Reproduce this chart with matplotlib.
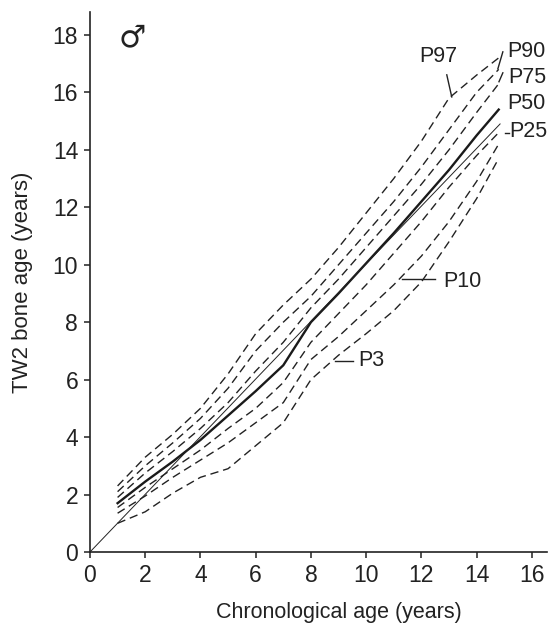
import matplotlib
matplotlib.use("Agg")
import matplotlib.pyplot as plt

# chronological age at which the centile curves are read
ages = [1, 2, 3, 4, 5, 6, 7, 8, 9, 10, 11, 12, 13, 14, 14.8]

# TW2 bone age centiles (years), boys
p97 = [2.3, 3.3, 4.1, 5.0, 6.2, 7.6, 8.6, 9.5, 10.6, 11.8, 13.0, 14.3, 15.8, 16.6, 17.2]
p90 = [2.1, 3.0, 3.8, 4.65, 5.7, 7.0, 8.0, 8.9, 10.0, 11.1, 12.2, 13.4, 14.7, 16.0, 16.8]
p75 = [1.9, 2.75, 3.5, 4.3, 5.2, 6.3, 7.3, 8.5, 9.5, 10.6, 11.7, 12.8, 14.0, 15.3, 16.3]
p50 = [1.7, 2.45, 3.15, 3.9, 4.75, 5.6, 6.5, 8.0, 9.0, 10.05, 11.1, 12.2, 13.3, 14.5, 15.4]
p25 = [1.55, 2.25, 2.9, 3.55, 4.3, 5.0, 5.9, 7.3, 8.3, 9.3, 10.4, 11.5, 12.7, 13.8, 14.6]
p10 = [1.35, 1.95, 2.6, 3.2, 3.8, 4.5, 5.2, 6.7, 7.5, 8.4, 9.3, 10.3, 11.5, 12.9, 14.2]
p3 = [1.0, 1.4, 2.05, 2.6, 2.9, 3.7, 4.5, 6.0, 6.85, 7.6, 8.4, 9.4, 10.8, 12.3, 13.7]

# identity line (bone age = chronological age)
ident_x = [0, 14.85]
ident_y = [0, 14.9]

xticks = [0, 2, 4, 6, 8, 10, 12, 14, 16]
yticks = [0, 2, 4, 6, 8, 10, 12, 14, 16, 18]

font = "Liberation Sans"
plt.rcParams["font.family"] = [font, "DejaVu Sans"]

fig = plt.figure(figsize=(5.5, 6.27), dpi=100)
ax = fig.add_axes([0.1636, 0.1196, 0.831, 0.8614])

dash = dict(color="#222222", lw=1.0, linestyle=(0, (6, 3.5)))
for curve in [p97, p90, p75, p25, p10, p3]:
	ax.plot(ages, curve, **dash)
ax.plot(ages, p50, color="#1a1a1a", lw=1.7)
ax.plot(ident_x, ident_y, color="#222222", lw=0.7)

ax.set_xlim(0, 16.55)
ax.set_ylim(0, 18.8)
ax.set_xticks(xticks)
ax.set_yticks(yticks)
for side in ["top", "right"]:
	ax.spines[side].set_visible(False)
for side in ["left", "bottom"]:
	ax.spines[side].set_linewidth(1.2)
	ax.spines[side].set_color("#222222")
ax.tick_params(direction="out", length=4.5, width=1.1, color="#222222",
	labelsize=16.5, labelcolor="#222222", pad=4)

ax.set_xlabel("Chronological age (years)", fontsize=15.5, color="#222222")
ax.set_ylabel("TW2 bone age (years)", fontsize=16, color="#222222")
ax.xaxis.set_label_coords(0.545, -0.092)
ax.yaxis.set_label_coords(-0.125, 0.5)

# centile labels and their pointer strokes
labels = [
	("P97", 12.63, 17.24),
	("P90", 15.82, 17.41),
	("P75", 15.82, 16.50),
	("P50", 15.82, 15.60),
	("P25", 15.86, 14.62),
	("P10", 13.47, 9.40),
	("P3", 10.17, 6.65),
]
for text, x, y in labels:
	ax.text(x, y, text, fontsize=15.5, ha="center", va="center",
		color="#222222", clip_on=False)

pointers = [
	((12.92, 13.10), (16.61, 15.84)),
	((14.95, 14.77), (17.41, 16.82)),
	((14.95, 14.81), (16.68, 16.37)),
	((15.02, 15.17), (14.59, 14.59)),
	((11.29, 12.49), (9.51, 9.51)),
	((8.87, 9.52), (6.65, 6.65)),
]
for xs, ys in pointers:
	ax.plot(xs, ys, color="#222222", lw=1.0, clip_on=False)

ax.text(1.52, 17.9, "\u2642", fontsize=22, ha="center", va="center",
	color="#222222", family="DejaVu Sans")

fig.savefig("out.png", dpi=100, facecolor="white")
